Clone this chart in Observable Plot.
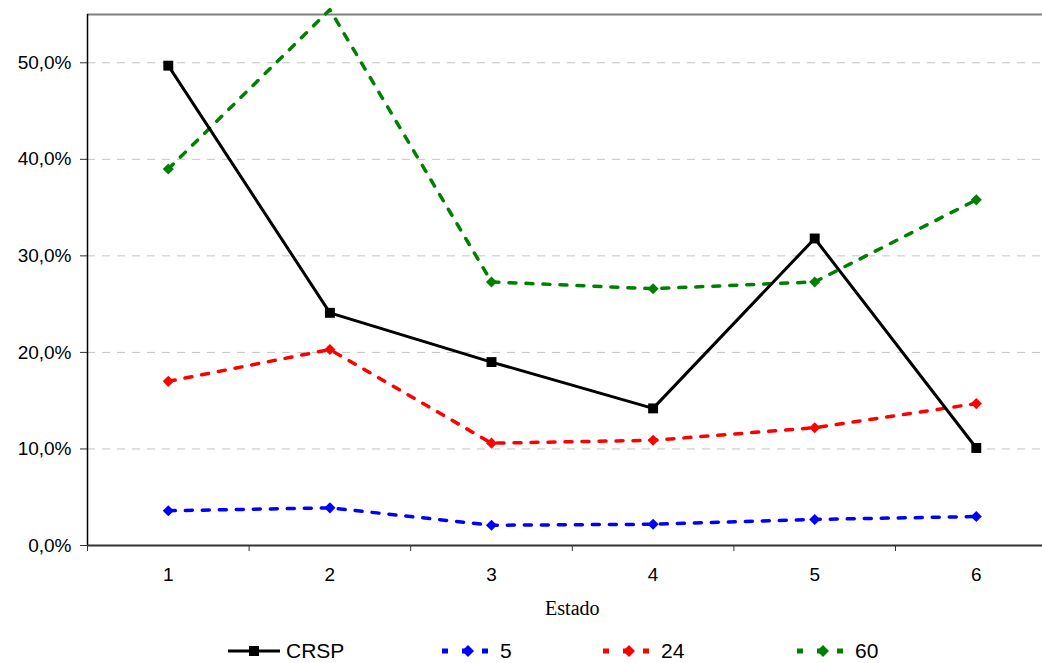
<!DOCTYPE html>
<html>
<head>
<meta charset="utf-8">
<script src="https://cdn.jsdelivr.net/npm/d3@7"></script>
<script src="https://cdn.jsdelivr.net/npm/@observablehq/plot@0.6"></script>
<style>
  html, body { margin: 0; padding: 0; background: #fff; }
  #wrap { position: relative; width: 1042px; height: 663px; overflow: hidden; font-family: "Liberation Sans", Arial, sans-serif; }
  #legend .item { position: absolute; top: 641px; height: 20px; display: flex; align-items: center; font-size: 21px; line-height: 20px; color: #000; }
  #legend svg { display: block; margin-right: 6px; }
</style>
</head>
<body>
<div id="wrap"><div id="chart"></div><div id="legend"></div></div>
<script>
// ---- data ----
const categories = [1, 2, 3, 4, 5, 6];
const seriesNames = ["CRSP", "5", "24", "60"];
const crsp = [0.497, 0.241, 0.190, 0.142, 0.318, 0.101];
const s5   = [0.036, 0.039, 0.021, 0.022, 0.027, 0.030];
const s24  = [0.170, 0.203, 0.106, 0.109, 0.122, 0.147];
const s60  = [0.390, 0.555, 0.273, 0.266, 0.273, 0.358];
const yTicks = [0, 0.1, 0.2, 0.3, 0.4, 0.5];
const yMax = 0.55;
const xTitle = "Estado";

const colors = {"CRSP": "#000000", "5": "#0000ff", "24": "#ff0000", "60": "#008000"};
const valuesBy = {"CRSP": crsp, "5": s5, "24": s24, "60": s60};

const rows = s => categories.map((c, i) => ({estado: c, value: valuesBy[s][i], serie: s}));
const boundaries = [...categories.map(c => c - 0.5), categories[categories.length - 1] + 0.5];
const xMid = d3.mean(categories);

const fmt = d => (d * 100).toFixed(1).replace(".", ",") + "%";

const dashed = ["5", "24", "60"];
const marks = [
  Plot.ruleY(yTicks.filter(t => t > 0), {stroke: "#c4c4c4", strokeWidth: 1, strokeDasharray: "8,7"}),
  Plot.ruleY([yMax], {stroke: "#808080", strokeWidth: 2}),
  Plot.axisY({ticks: yTicks, tickFormat: fmt, tickSize: 7, tickPadding: 9, fontSize: 19, label: null, stroke: "#333"}),
  Plot.axisX({ticks: categories, tickSize: 0, tickPadding: 22, fontSize: 19, label: null, tickFormat: d => String(d)}),
  Plot.axisX({ticks: boundaries, tickSize: 6, tickFormat: () => "", label: null, stroke: "#333"}),
  Plot.ruleX([boundaries[0]], {stroke: "#000", strokeWidth: 1.5}),
  Plot.ruleY([0], {stroke: "#333", strokeWidth: 2}),
  Plot.text([xTitle], {x: xMid, frameAnchor: "bottom", lineAnchor: "bottom", dy: 69, fontSize: 20, fontFamily: "Liberation Serif, Times New Roman, serif", fill: "#000"})
];
for (const s of dashed) {
  marks.push(Plot.line(rows(s), {x: "estado", y: "value", stroke: colors[s], strokeWidth: 3.5, strokeDasharray: "7,10"}));
  marks.push(Plot.dot(rows(s).filter(d => d.value <= yMax), {x: "estado", y: "value", symbol: "diamond2", r: 5, fill: colors[s], stroke: "none"}));
}
marks.push(Plot.line(rows("CRSP"), {x: "estado", y: "value", stroke: colors["CRSP"], strokeWidth: 3}));
marks.push(Plot.dot(rows("CRSP"), {x: "estado", y: "value", symbol: "square", r: 5.6, fill: "#000", stroke: "none"}));

const W = 1042, ML = 87, step = 161.6;
const chart = Plot.plot({
  width: W,
  height: 630,
  marginLeft: ML,
  marginRight: 0,
  marginTop: 14,
  marginBottom: 85,
  style: {fontFamily: "Liberation Sans, Arial, sans-serif", color: "#000", background: "#fff", overflow: "visible"},
  x: {type: "linear", domain: [categories[0] - 0.5, categories[0] - 0.5 + (W - ML) / step]},
  y: {domain: [0, yMax]},
  marks
});
document.getElementById("chart").appendChild(chart);

// ---- legend ----
const legendPos = {"CRSP": 228, "5": 442, "24": 603, "60": 797};
const legend = document.getElementById("legend");
for (const s of seriesNames) {
  const item = document.createElement("div");
  item.className = "item";
  item.style.left = legendPos[s] + "px";
  const sw = 52;
  let svg;
  if (s === "CRSP") {
    svg = `<svg width="${sw}" height="20"><line x1="0" y1="10" x2="${sw}" y2="10" stroke="#000" stroke-width="3"/><rect x="${sw/2-5}" y="5" width="10" height="10" fill="#000"/></svg>`;
  } else {
    svg = `<svg width="${sw}" height="20"><line x1="0" y1="10" x2="${sw}" y2="10" stroke="${colors[s]}" stroke-width="5" stroke-dasharray="6,14"/><path d="M${sw/2},4 L${sw/2+6},10 L${sw/2},16 L${sw/2-6},10 Z" fill="${colors[s]}"/></svg>`;
  }
  item.innerHTML = svg + `<span>${s}</span>`;
  legend.appendChild(item);
}
</script>
</body>
</html>
